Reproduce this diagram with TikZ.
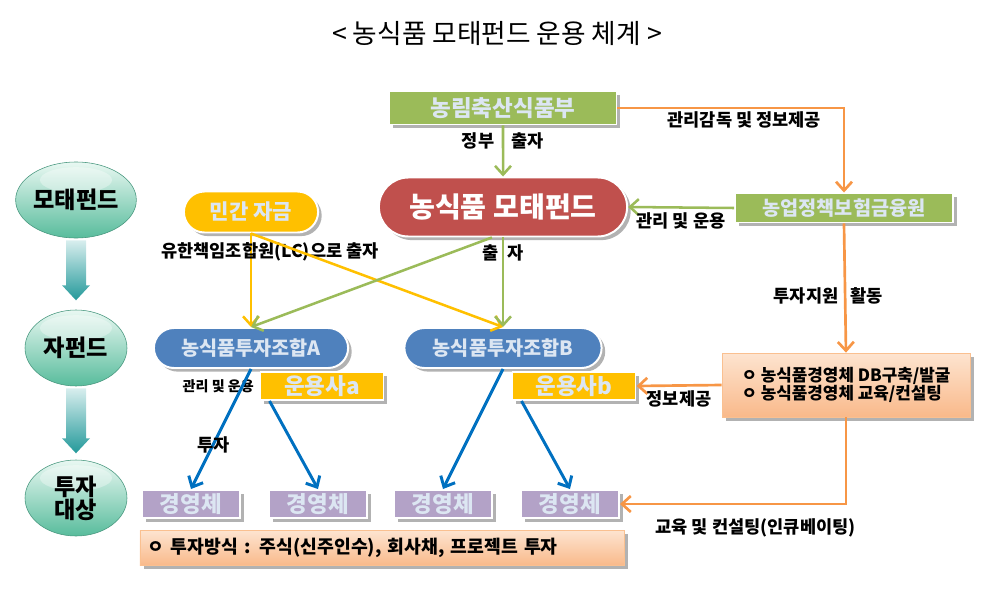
\documentclass[tikz,border=0pt]{standalone}
\usepackage{fontspec}
\setmainfont{Noto Sans CJK KR}
\usetikzlibrary{positioning,arrows.meta,shapes.geometric,shapes.misc,shadows,calc}

\definecolor{govgreen}{HTML}{9BBB59}
\definecolor{fundred}{HTML}{C0504D}
\definecolor{poolblue}{HTML}{4F81BD}
\definecolor{mgryellow}{HTML}{FFC000}
\definecolor{firmpurple}{HTML}{B3A2C7}
\definecolor{lineorange}{HTML}{F79646}
\definecolor{lineblue}{HTML}{0070C0}
\definecolor{peachhi}{HTML}{FDE4D0}
\definecolor{peachlo}{HTML}{F9B98A}
\definecolor{ballhi}{HTML}{E9F8F2}
\definecolor{balllo}{HTML}{58BC9C}
\definecolor{shafthi}{HTML}{D8EEEE}
\definecolor{shaftlo}{HTML}{23999A}
\definecolor{glyph}{HTML}{DCE6F2}

\newcommand{\fsz}[1]{\fontsize{#1}{#1}\selectfont}

\begin{document}
\begin{tikzpicture}[
  x=0.25mm, y=-0.25mm,
  >={Straight Barb[length=2.2mm,width=4mm]},
  shadowed/.style={drop shadow={shadow xshift=.9mm, shadow yshift=-.9mm,
                   fill=black!55, opacity=.55}},
  card/.style={shadowed, draw=white, line width=1.4pt, inner sep=1pt,
               text=glyph, font=\bfseries},
  govbox/.style={card, rectangle, fill=govgreen},
  fundpill/.style={card, rounded rectangle, fill=fundred, text=white},
  poolpill/.style={card, rounded rectangle, fill=poolblue},
  privpill/.style={card, rounded rectangle, fill=mgryellow},
  mgrbox/.style={card, rectangle, fill=mgryellow, minimum width=30.75mm,
                 minimum height=7mm, font=\bfseries\fsz{16}},
  firmbox/.style={card, rectangle, fill=firmpurple, minimum width=24.5mm,
                  minimum height=7mm, font=\bfseries\fsz{16}},
  notebox/.style={shadowed, rectangle, draw=lineorange!60, line width=.5pt,
                  top color=peachhi, bottom color=peachlo, text=black,
                  font=\bfseries\fsz{12}},
  level/.style={ellipse, draw=balllo!80!black, line width=.4pt,
                top color=ballhi, bottom color=balllo,
                minimum width=25.5mm, minimum height=19mm, inner sep=0pt,
                align=center, font=\bfseries\fsz{16.5},
                path picture={\fill[white, opacity=.35]
                  ($(path picture bounding box.north)+(0,-4.5mm)$)
                  ellipse (9mm and 3.2mm);}},
  lbl/.style={font=\bfseries\fsz{12.5}, inner sep=1pt},
  orgflow/.style={->, line width=1.9pt, draw=lineorange},
  grnflow/.style={->, line width=1.8pt, draw=govgreen},
  yelflow/.style={->, line width=1.8pt, draw=mgryellow},
  bluflow/.style={->, line width=2.1pt, draw=lineblue},
  levelarrow/.style={top color=shafthi, bottom color=shaftlo},
]
\useasboundingbox (0,0) rectangle (1000,592);

\node[font=\fsz{19}] (title) at (497,33) {< 농식품 모태펀드 운용 체계 >};

\node[level] (lv1) at (76,200) {모태펀드};
\node[level] (lv2) at (76,348) {자펀드};
\node[level, font=\bfseries\fontsize{16.5}{15.5}\selectfont] (lv3) at (76,498) {투자\\대상};

\node[govbox, minimum width=56.75mm, minimum height=8.25mm, font=\bfseries\fsz{16}]
  (mafra) at (503,108) {농림축산식품부};
\node[fundpill, minimum width=62.75mm, minimum height=14.75mm, font=\bfseries\fsz{20}]
  (mother) at (503,207) {농식품 모태펀드};
\node[govbox, minimum width=54.5mm, minimum height=7.25mm, font=\bfseries\fsz{14}]
  (apfs) at (844,208) {농업정책보험금융원};
\node[privpill, minimum width=34.25mm, minimum height=10.25mm, font=\bfseries\fsz{15}]
  (private) at (251,212) {민간 자금};

\node[poolpill, minimum width=49.25mm, minimum height=10mm, font=\bfseries\fsz{14}]
  (fundA) at (251,348) {농식품투자조합A};
\node[poolpill, minimum width=50mm, minimum height=10mm, font=\bfseries\fsz{14}]
  (fundB) at (503,348) {농식품투자조합B};
\node[mgrbox] (mgra) at (322,386) {운용사a};
\node[mgrbox] (mgrb) at (574,386) {운용사b};
\node[lbl, font=\bfseries\fsz{10}, left=1mm of mgra] (mgralbl) {관리 및 운용};

\node[notebox, minimum width=62mm, minimum height=16mm, align=left]
  (devbox) at (846,385) {ㅇ 농식품경영체 DB구축/발굴\\ㅇ 농식품경영체 교육/컨설팅};

\node[firmbox] (firm1) at (191,504) {경영체};
\node[firmbox] (firm2) at (318,504) {경영체};
\node[firmbox] (firm3) at (443,504) {경영체};
\node[firmbox] (firm4) at (570,504) {경영체};
\node[notebox, text width=117mm, minimum height=7.25mm, inner sep=2mm, align=left,
      font=\bfseries\fsz{13}]
  (method) at (382,548) {ㅇ 투자방식 : 주식(신주인수), 회사채, 프로젝트 투자};

\shade[levelarrow] ($(lv1.south)+(-10,2)$) -- ++(20,0) -- ++(0,45) -- ++(4,0)
  -- ++(-14,15) -- ++(-14,-15) -- ++(4,0) -- cycle;
\shade[levelarrow] ($(lv2.south)+(-10,2)$) -- ++(20,0) -- ++(0,50) -- ++(4,0)
  -- ++(-14,15) -- ++(-14,-15) -- ++(4,0) -- cycle;

\draw[grnflow] (mafra) -- node[lbl, pos=.31]{정부\hspace{1em}출자} (mother);
\draw[orgflow] (mafra.east) -| node[lbl, below=1pt, pos=.28]{관리감독 및 정보제공} (apfs.north);
\draw[grnflow] (apfs.west) -- node[lbl, below=2pt]{관리 및 운용} (mother.east);
\draw[orgflow] (apfs.south) -- node[lbl, pos=.56, xshift=-4.2mm]{투자지원\hspace{.7em}활동} (devbox.north);
\draw[orgflow] (devbox.west) -- node[lbl, below=2pt]{정보제공} (mgrb.east);
\draw[orgflow] (devbox.south) |- node[lbl, below=3mm, pos=.7]{교육 및 컨설팅(인큐베이팅)} (firm4.east);

\draw[yelflow] (private.south) -- node[lbl, pos=.2, xshift=4.75mm]{유한책임조합원(LC)으로 출자} (fundA.north);
\draw[yelflow] (private.south) -- (fundB.north);
\draw[grnflow] (mother.south) -- node[lbl, pos=.17]{출\hspace{.5em}자} (fundB.north);
\draw[grnflow] (mother.250) -- (fundA.north);

\draw[bluflow] (fundA.south) -- node[lbl, pos=.63]{투자} (firm1.north);
\draw[bluflow] ($(mgra.south west)+(10,0)$) -- (firm2.north);
\draw[bluflow] (fundB.south) -- (firm3.north);
\draw[bluflow] ($(mgrb.south west)+(10,0)$) -- (firm4.north);
\end{tikzpicture}
\end{document}
